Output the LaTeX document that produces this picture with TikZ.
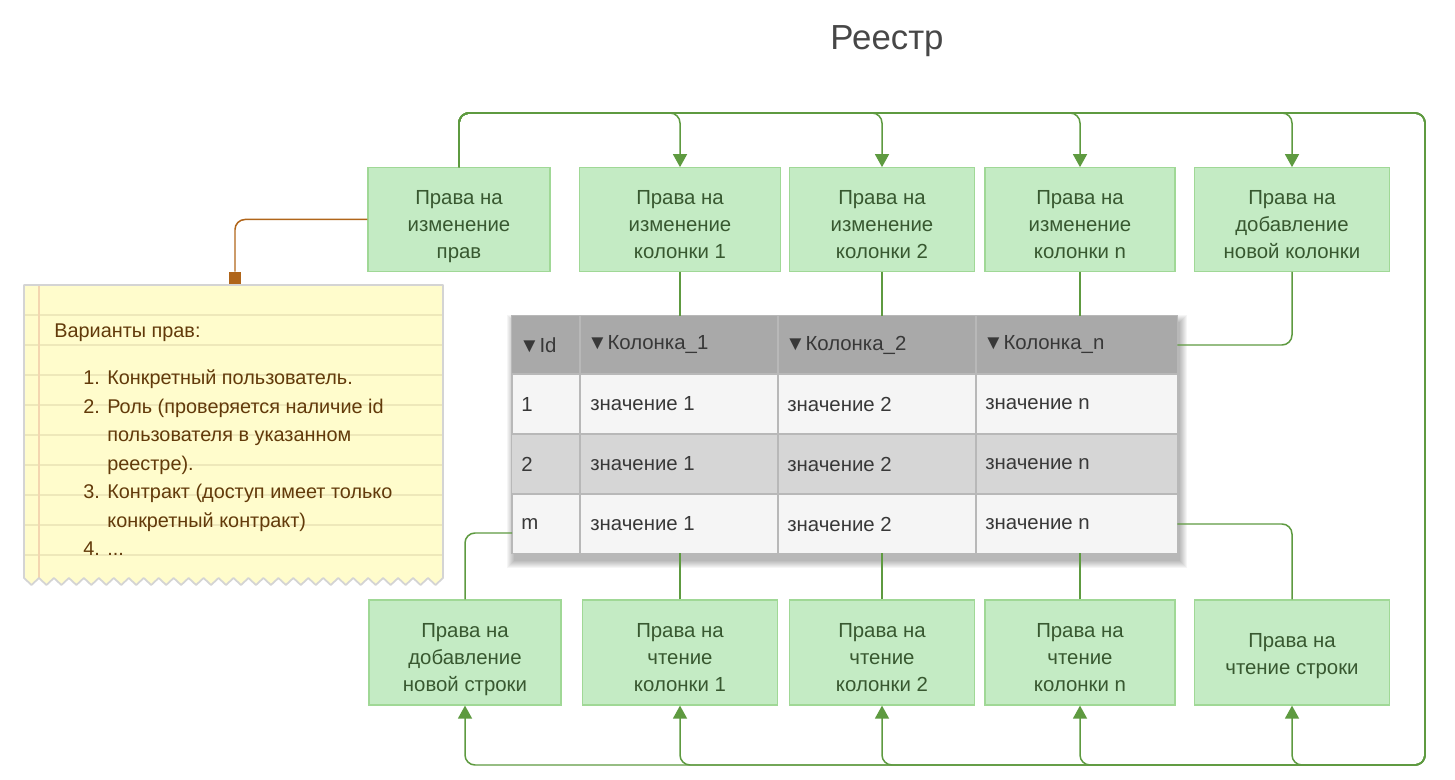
\documentclass[tikz,border=0pt]{standalone}
\usepackage{fontspec}
\setmainfont{Liberation Sans}
\usetikzlibrary{arrows.meta}

\definecolor{boxfill}{RGB}{196,235,196}
\definecolor{boxedge}{RGB}{160,216,150}
\definecolor{boxtext}{RGB}{56,88,48}
\definecolor{linkgreen}{RGB}{94,154,64}
\definecolor{notefill}{RGB}{255,252,204}
\definecolor{noteline}{RGB}{238,232,186}
\definecolor{notemargin}{RGB}{243,214,176}
\definecolor{noteedge}{RGB}{212,212,212}
\definecolor{notetext}{RGB}{98,58,10}
\definecolor{pinbrown}{RGB}{176,101,26}
\definecolor{headfill}{RGB}{169,169,169}
\definecolor{rowfill}{RGB}{245,245,245}
\definecolor{altfill}{RGB}{214,214,214}
\definecolor{gridline}{RGB}{184,184,184}

% struts to sit the box text a little lower
\newcommand{\permtop}{\rule{0pt}{16.7pt}}
\newcommand{\permbot}{\rule[-3pt]{0pt}{0pt}}

\newcommand{\notepath}{(24,285) -- (443,285) -- (443,578)
  \foreach \i in {0,...,27} { -- ({443-(\i+0.5)*14.964},585) -- ({443-(\i+1)*14.964},578) } -- cycle}

\begin{document}
\begin{tikzpicture}[x=0.02cm, y=-0.02cm, >=Triangle,
        perm/.style={draw=boxedge, fill=boxfill, line width=0.7pt, align=center, text=boxtext,
            font=\fontsize{11.6}{15.6}\selectfont, minimum height=2.07cm, inner sep=2pt},
        flow/.style={draw=linkgreen, line width=0.85pt, rounded corners=0.2cm,
            -{Triangle[width=0.28cm,length=0.26cm]}},
        link/.style={draw=linkgreen, line width=0.85pt, rounded corners=0.2cm},
        celltext/.style={anchor=west, inner sep=0pt, text=black!78, font=\fontsize{11.6}{14}\selectfont},
        title/.style={font=\fontsize{19.8}{24}\selectfont, text=black!72}]
    \useasboundingbox (0,0) rectangle (1455,780);

    \node[title] (ttl) at (887,41) {Реестр};

    % rights boxes, top row
    \node[perm, minimum width=3.64cm] (ed) at (459,219.5) {\permtop Права на\\изменение\\прав\permbot};
    \node[perm, minimum width=4.02cm] (k1) at (680,219.5) {\permtop Права на\\изменение\\колонки 1\permbot};
    \node[perm, minimum width=3.70cm] (k2) at (882,219.5) {\permtop Права на\\изменение\\колонки 2\permbot};
    \node[perm, minimum width=3.80cm] (kn) at (1080,219.5) {\permtop Права на\\изменение\\колонки n\permbot};
    \node[perm, minimum width=3.90cm] (kadd) at (1292,219.5) {\permtop Права на\\добавление\\новой колонки\permbot};

    % rights boxes, bottom row
    \node[perm, minimum width=3.84cm, minimum height=2.1cm] (radd) at (465,652.5) {\permtop Права на\\добавление\\новой строки\permbot};
    \node[perm, minimum width=3.90cm, minimum height=2.1cm] (r1) at (680,652.5) {\permtop Права на\\чтение\\колонки 1\permbot};
    \node[perm, minimum width=3.70cm, minimum height=2.1cm] (r2) at (882,652.5) {\permtop Права на\\чтение\\колонки 2\permbot};
    \node[perm, minimum width=3.80cm, minimum height=2.1cm] (rn) at (1080,652.5) {\permtop Права на\\чтение\\колонки n\permbot};
    \node[perm, minimum width=3.90cm, minimum height=2.1cm] (rrow) at (1292,652.5) {\rule{0pt}{12.4pt}Права на\\чтение строки};

    % table
    \foreach \s in {0,...,7}
        \fill[black, opacity=0.04] (514-\s,322-\s) rectangle (1180+\s,561+\s);
    \node[draw=gridline, fill=rowfill, minimum width=13.3cm, minimum height=4.74cm, inner sep=0pt] (tab) at (844.5,434.5) {};
    \fill[headfill] (512,316) rectangle (1177,374);
    \fill[altfill] (512,434) rectangle (1177,494);
    \draw[gridline, line width=0.8pt] (512,374) -- (1177,374) (512,434) -- (1177,434) (512,494) -- (1177,494);
    \draw[gridline, line width=0.8pt] (580,316) -- (580,553) (778,316) -- (778,553) (976,316) -- (976,553);
    \draw[gridline, line width=0.8pt] (tab.north west) rectangle (tab.south east);

    \node[celltext] (hid) at (519,345) {▼Id};
    \node[celltext] (h1) at (587,345) {▼Колонка\_1};
    \node[celltext] (h2) at (785,345) {▼Колонка\_2};
    \node[celltext] (hn) at (983,345) {▼Колонка\_n};
    \foreach \r/\y in {1/404, 2/464, m/524} {
        \node[celltext] (id\r) at (521,\y) {\r};
        \node[celltext] (v1\r) at (590,\y) {значение 1};
        \node[celltext] (v2\r) at (787,\y) {значение 2};
        \node[celltext] (vn\r) at (985,\y) {значение n};
    }

    % note
    \fill[notefill] \notepath;
    \begin{scope}
        \clip \notepath;
        \foreach \y in {315,345,...,555}
            \draw[noteline, line width=1pt] (24,\y) -- (443,\y);
        \draw[notemargin, line width=0.6pt] (39,285) -- (39,590);
    \end{scope}
    \draw[noteedge, line width=1pt, line join=round] \notepath;
    \node[anchor=north west, align=left, inner sep=0pt, text=notetext,
        font=\fontsize{11.3}{16.2}\selectfont] (note) at (54,323)
        {Варианты прав:\\[0.39cm]
        \hspace*{0.58cm}\makebox[0.48cm][l]{1.}Конкретный пользователь.\\
        \hspace*{0.58cm}\makebox[0.48cm][l]{2.}Роль (проверяется наличие id\\
        \hspace*{1.06cm}пользователя в указанном\\
        \hspace*{1.06cm}реестре).\\
        \hspace*{0.58cm}\makebox[0.48cm][l]{3.}Контракт (доступ имеет только\\
        \hspace*{1.06cm}конкретный контракт)\\
        \hspace*{0.58cm}\makebox[0.48cm][l]{4.}...};
    \node[fill=pinbrown, minimum size=0.24cm, inner sep=0pt] (pin) at (235,278) {};
    \draw[pinbrown, line width=0.85pt, rounded corners=0.2cm] (ed.west) -| (pin.north);

    % links to the table
    \coordinate (top) at (0,113);
    \coordinate (bot) at (0,765);
    \coordinate (rgt) at (1425,0);
    \coordinate (addin) at (512,533);
    \foreach \t in {k1,k2,kn} {
        \draw[link] (\t.south) -- (\t.south |- tab.north);
    }
    \foreach \t in {r1,r2,rn} {
        \draw[link] (\t.north) -- (\t.north |- tab.south);
    }
    \draw[link] (kadd.south) |- (tab.east |- hn);
    \draw[link] (rrow.north) |- (tab.east |- vnm);
    \draw[link] (radd.north) |- (addin);

    % links from the rights box
    \foreach \t in {k1,k2,kn,kadd}
        \draw[flow] (ed.north) -- (ed.north |- top) -- (\t.north |- top) -- (\t.north);
    \foreach \t in {radd,r1,r2,rn,rrow}
        \draw[flow] (ed.north) -- (ed.north |- top) -- (rgt |- top) -- (rgt |- bot) -- (\t.south |- bot) -- (\t.south);
\end{tikzpicture}
\end{document}
